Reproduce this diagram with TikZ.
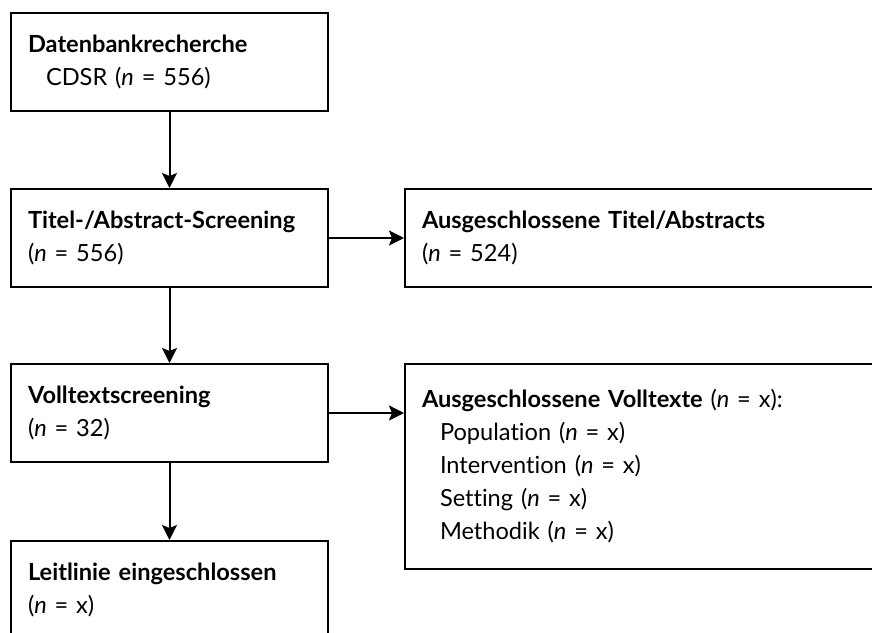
\documentclass[tikz,border=0pt]{standalone}
\usepackage{fontspec}
\setmainfont{Lato}[Ligatures={NoCommon}]
\usetikzlibrary{arrows.meta}

\begin{document}
\begin{tikzpicture}[x=1pt, y=-1pt,
		box/.style={draw, line width=2pt, anchor=north west, align=left,
			minimum height=98pt, inner xsep=17pt, inner ysep=0pt,
			font=\fontsize{23.6}{33}\selectfont},
		narrow/.style={box, text width=283pt},
		wide/.style={box, text width=466pt},
		flow/.style={line width=2pt, -{Stealth[length=15pt, width=15pt, inset=3pt]}}]
			%%%%% START %%%%%
			
			\useasboundingbox (0, 0) rectangle (872, 632);
			\clip (0, 0) rectangle (872, 632);
			
			\node[narrow] (search) at (10, 12) {\textbf{Datenbankrecherche}\\\hspace*{18pt}CDSR (\textit{n} = 556)};
			\node[narrow] (titles) at (10, 188) {\textbf{Titel-/Abstract-Screening}\\(\textit{n} = 556)};
			\node[wide] (extitles) at (404, 188) {\textbf{Ausgeschlossene Titel/Abstracts}\\(\textit{n} = 524)};
			\node[narrow] (fulltext) at (10, 363) {\textbf{Volltextscreening}\\(\textit{n} = 32)};
			\node[wide, minimum height=205pt] (exfull) at (404, 363) {\textbf{Ausgeschlossene Volltexte} (\textit{n} = x):\\
				\hspace*{18pt}Population (\textit{n} = x)\\
				\hspace*{18pt}Intervention (\textit{n} = x)\\
				\hspace*{18pt}Setting (\textit{n} = x)\\
				\hspace*{18pt}Methodik (\textit{n} = x)};
			\node[narrow] (included) at (10, 540) {\textbf{Leitlinie eingeschlossen}\\(\textit{n} = x)};
			
			\draw[flow] (search) -- (titles);
			\draw[flow] (titles) -- (fulltext);
			\draw[flow] (fulltext) -- (included);
			\draw[flow] (titles.east) -- (extitles.west);
			\draw[flow] (fulltext.east) -- (exfull.west |- fulltext.east);
			
			%%%%% END %%%%%
		\end{tikzpicture}
\end{document}
